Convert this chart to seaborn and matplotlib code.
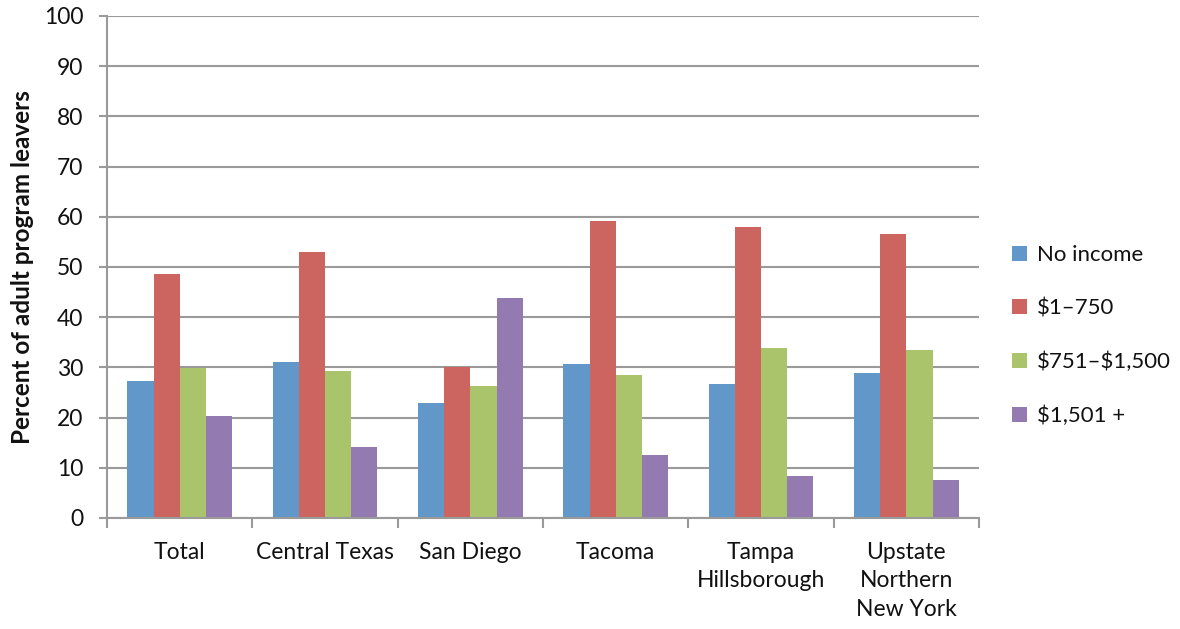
import matplotlib
matplotlib.use("Agg")
import matplotlib.pyplot as plt
import numpy as np
import pandas as pd
import seaborn as sns

sites = ["Total", "Central Texas", "San Diego", "Tacoma",
         "Tampa\nHillsborough", "Upstate\nNorthern\nNew York"]
income_groups = ["No income", "\\$1\u2013750", "\\$751\u2013\\$1,500", "\\$1,501 +"]
no_income = [27.3, 31.1, 22.9, 30.7, 26.7, 28.9]
low = [48.7, 52.9, 30.1, 59.2, 57.9, 56.6]
mid = [29.9, 29.2, 26.3, 28.5, 33.9, 33.5]
high = [20.3, 14.1, 43.8, 12.5, 8.3, 7.6]
colors = ["#6197C9", "#CC6560", "#AAC46B", "#937AB1"]

df = pd.DataFrame({
    "site": sites * 4,
    "group": np.repeat(income_groups, len(sites)),
    "pct": no_income + low + mid + high,
})

sns.set_theme(style="white")
plt.rcParams["font.family"] = ["Lato", "DejaVu Sans"]

fs = 16.5
fig = plt.figure(figsize=(11.8, 6.29), dpi=100)
ax = fig.add_axes([0.0907, 0.1765, 0.739, 0.7981])

sns.barplot(data=df, x="site", y="pct", hue="group", order=sites,
            hue_order=income_groups, palette=colors, width=0.72,
            saturation=1, edgecolor="none", ax=ax, errorbar=None)

grid_c = "#9a9a9a"
ax.set_ylim(0, 100)
ax.set_xlim(-0.5, len(sites) - 0.5)
ax.set_yticks(range(0, 101, 10))
ax.yaxis.grid(True, color=grid_c, linewidth=1.5)
ax.set_axisbelow(True)
for s in ["top", "right"]:
    ax.spines[s].set_visible(False)
for s in ["left", "bottom"]:
    ax.spines[s].set_color(grid_c)
    ax.spines[s].set_linewidth(1.5)

ax.tick_params(axis="y", which="major", length=6, width=1.5, color=grid_c,
               direction="out", labelsize=fs, pad=11, left=True)
ax.tick_params(axis="x", which="major", length=0, labelsize=fs, pad=17)
ax.set_xticks(np.arange(-0.5, len(sites), 1.0), minor=True)
ax.tick_params(axis="x", which="minor", length=7, width=1.5, color=grid_c,
               direction="out", bottom=True)
ax.set_xticklabels(sites, linespacing=1.45, color="#111111")
for t in ax.get_yticklabels():
    t.set_color("#111111")

ax.set_xlabel("")
ax.set_ylabel("Percent of adult program leavers", fontsize=17.5,
              fontweight="bold", labelpad=7, color="#111111")

leg = ax.legend(loc="center left", bbox_to_anchor=(1.028, 0.363), frameon=False,
                fontsize=16, handlelength=0.65, handleheight=0.65,
                handletextpad=0.45, labelspacing=1.5, borderaxespad=0)
for t in leg.get_texts():
    t.set_color("#111111")

fig.savefig("out.png", dpi=100)
